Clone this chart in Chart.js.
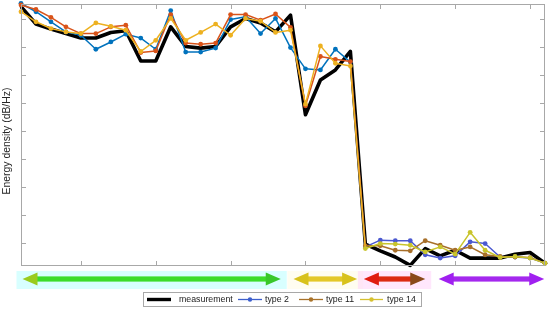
<!DOCTYPE html>
<html><head><meta charset="utf-8">
<script src="https://cdn.jsdelivr.net/npm/chart.js@4/dist/chart.umd.min.js"></script>
<style>html,body{margin:0;padding:0;background:#fff;overflow:hidden}#wrap{position:relative;width:550px;height:309px}</style>
</head><body><div id="wrap"><canvas id="c" width="550" height="309"></canvas></div>
<script>
// ---- data ----
const xValues = [1,2,3,4,5,6,7,8,9,10,11,12,13,14,15,16,17,18,19,20,21,22,23,24,25,26,27,28,29,30,31,32,33,34,35,36];
const measurement = [-17.8,-20.9,-21.8,-22.6,-23.4,-23.4,-22.4,-22.1,-27.5,-27.5,-21.4,-24.9,-25.2,-24.9,-21.4,-19.9,-20.7,-22.3,-19.3,-37.1,-30.9,-29.1,-25.8,-60.2,-61.4,-62.5,-64.0,-61.0,-62.3,-61.3,-62.7,-62.7,-62.7,-62.0,-61.7,-63.6];
const type2 = [-17.2,-18.7,-20.5,-22.3,-22.9,-25.4,-24.1,-22.7,-23.4,-25.4,-18.5,-25.9,-25.9,-25.2,-20.1,-19.6,-22.6,-19.9,-25.1,-28.9,-29.1,-25.4,-27.7,-60.7,-59.5,-59.6,-59.6,-62.1,-62.7,-62.3,-59.8,-60.1,-62.5,-62.5,-62.7,-63.6];
const type11 = [-17.5,-18.3,-19.7,-21.4,-22.6,-22.6,-21.4,-21.1,-26.0,-25.7,-19.2,-24.3,-24.5,-24.3,-19.2,-19.2,-20.2,-19.1,-21.5,-35.5,-26.7,-27.2,-27.6,-60.5,-60.5,-61.3,-61.4,-59.6,-60.4,-61.3,-60.7,-62.1,-62.4,-62.5,-62.6,-63.6];
const type14 = [-18.7,-20.5,-21.7,-22.3,-22.6,-20.7,-21.3,-22.0,-25.8,-23.8,-19.9,-23.8,-22.4,-20.9,-22.9,-19.9,-20.4,-22.4,-22.0,-35.2,-24.8,-27.9,-28.4,-61.0,-60.1,-60.2,-60.4,-61.6,-60.7,-62.0,-58.1,-61.3,-62.6,-62.4,-62.7,-63.6];
const seriesNames = ['measurement','type 2','type 11','type 14'];
const xTicks = [5,10,15,20,25,30,35];
const yTicks = [-60,-55,-50,-45,-40,-35,-30,-25,-20];
const yTitle = 'Energy density (dB/Hz)';
// frequency bands marked by arrows below the axes (x units)
const bandStart = [1.1, 19.2, 23.9, 28.9];
const bandEnd = [18.35, 23.45, 28.0, 35.95];

// ---- styles ----
const FONT = '"Liberation Sans", Arial, Helvetica, sans-serif';
const topCols = ['#000000','#0072BD','#D95319','#EDB120'];
const lowCols = ['#000000','#4a58d0','#a8702a','#c8c42c'];
const legendCols = ['#000000','#3d5fcc','#a8722a','#d6c030'];
const SPLIT = 22; // index after which colours shift
const seriesData = [measurement, type2, type11, type14];

function mkDs(i){
  const isM = i===0;
  return {
    label: seriesNames[i],
    data: seriesData[i].map((v,k)=>({x:xValues[k], y:v})),
    borderColor: topCols[i],
    borderWidth: isM ? 3.6 : 1.5,
    pointRadius: isM ? 0 : 2.4,
    pointBorderWidth: 0,
    pointBackgroundColor: ctx => ctx.dataIndex > SPLIT ? lowCols[i] : topCols[i],
    pointBorderColor: ctx => ctx.dataIndex > SPLIT ? lowCols[i] : topCols[i],
    segment: { borderColor: c => c.p0DataIndex > SPLIT ? lowCols[i] : topCols[i] },
    tension: 0,
    fill: false,
    clip: false,
    order: 4 - i,
    borderJoinStyle: 'round'
  };
}

const framePlugin = {
  id:'frame',
  beforeDatasetsDraw(chart){
    const {ctx, chartArea:a, scales:{x,y}} = chart;
    ctx.save();
    // band backgrounds
    const bgCols = ['rgba(190,255,255,0.6)','rgba(255,252,225,0.5)','rgba(255,215,250,0.6)','rgba(240,240,255,0.0)'];
    for(let i=0;i<bandStart.length;i++){
      const x0 = x.getPixelForValue(bandStart[i]) - 6, x1 = x.getPixelForValue(bandEnd[i]) + 6;
      ctx.fillStyle = bgCols[i];
      ctx.fillRect(x0, a.bottom+5, x1-x0, 18);
    }
    ctx.restore();
  },
  afterDatasetsDraw(chart){
    const {ctx, chartArea:a, scales:{x,y}} = chart;
    ctx.save();
    ctx.strokeStyle = '#a8a8a8';
    ctx.lineWidth = 1;
    ctx.strokeRect(a.left+0.5, a.top+0.5, a.right-a.left-1, a.bottom-a.top-1);
    ctx.beginPath();
    const tl = 5;
    xTicks.forEach(v=>{
      const px = Math.round(x.getPixelForValue(v))+0.5;
      ctx.moveTo(px,a.top); ctx.lineTo(px,a.top+tl);
      ctx.moveTo(px,a.bottom); ctx.lineTo(px,a.bottom-tl);
    });
    yTicks.forEach(v=>{
      const py = Math.round(y.getPixelForValue(v))+0.5;
      ctx.moveTo(a.left,py); ctx.lineTo(a.left+tl,py);
      ctx.moveTo(a.right,py); ctx.lineTo(a.right-tl,py);
    });
    ctx.stroke();

    // y axis title
    ctx.save();
    ctx.translate(7, (a.top+a.bottom)/2 + 6);
    ctx.rotate(-Math.PI/2);
    ctx.font = '10.4px ' + FONT;
    ctx.fillStyle = '#262626';
    ctx.textAlign = 'center';
    ctx.textBaseline = 'middle';
    ctx.fillText(yTitle, 0, 0);
    ctx.restore();

    // arrows
    const arrowCols = [['#9acb1e','#3ddc2a','#38c82a'],['#d8c21c','#e4c828','#d8c21c'],['#e01c10','#dc2a12','#8a4a1a'],['#a020f0','#a428ee','#a020f0']];
    const cy = a.bottom + 13;
    for(let i=0;i<bandStart.length;i++){
      const x0 = x.getPixelForValue(bandStart[i]), x1 = x.getPixelForValue(bandEnd[i]);
      const hl = 15, hh = 6.5, sh = 2.6;
      const [cl, cm, cr] = arrowCols[i];
      ctx.fillStyle = cm;
      ctx.fillRect(x0+hl-1, cy-sh, (x1-x0)-2*hl+2, 2*sh);
      ctx.fillStyle = cl;
      ctx.beginPath(); ctx.moveTo(x0,cy); ctx.lineTo(x0+hl,cy-hh); ctx.lineTo(x0+hl,cy+hh); ctx.closePath(); ctx.fill();
      ctx.fillStyle = cr;
      ctx.beginPath(); ctx.moveTo(x1,cy); ctx.lineTo(x1-hl,cy-hh); ctx.lineTo(x1-hl,cy+hh); ctx.closePath(); ctx.fill();
    }

    // legend
    const lx = 143, ly = 292, lw = 279, lh = 15;
    ctx.fillStyle = '#ffffff';
    ctx.fillRect(lx, ly, lw, lh);
    ctx.strokeStyle = '#a8a8a8';
    ctx.strokeRect(lx+0.5, ly+0.5, lw-1, lh-1);
    const items = [[147,171,179],[238,262,265],[299,323,326],[360,383,387]];
    const cyL = ly + lh/2;
    ctx.font = '8.8px ' + FONT;
    ctx.textBaseline = 'middle';
    for(let i=0;i<4;i++){
      const [s,e,t] = items[i];
      ctx.strokeStyle = legendCols[i];
      ctx.lineWidth = i===0 ? 3.4 : 1.3;
      ctx.beginPath(); ctx.moveTo(s,cyL); ctx.lineTo(e,cyL); ctx.stroke();
      if(i>0){ ctx.fillStyle = legendCols[i]; ctx.beginPath(); ctx.arc((s+e)/2,cyL,2.2,0,Math.PI*2); ctx.fill(); }
      ctx.fillStyle = '#1a1a1a';
      ctx.fillText(seriesNames[i], t, cyL+0.5);
    }
    ctx.restore();
  }
};

new Chart(document.getElementById('c').getContext('2d'), {
  type:'line',
  data:{ datasets:[0,1,2,3].map(mkDs) },
  options:{
    responsive:false, animation:false, devicePixelRatio:1,
    layout:{padding:{top:4,right:5,left:0,bottom:0}},
    plugins:{legend:{display:false}, tooltip:{enabled:false}},
    scales:{
      x:{type:'linear', min:1, max:36, grid:{display:false}, border:{display:false}, ticks:{display:false},
         afterFit(s){s.height=43;}, afterBuildTicks(s){s.ticks=xTicks.map(v=>({value:v}));}},
      y:{type:'linear', min:-64.11, max:-17.32, grid:{display:false}, border:{display:false}, ticks:{display:false},
         afterBuildTicks(s){s.ticks=yTicks.map(v=>({value:v}));},
         title:{display:false, text:yTitle},
         afterFit(s){s.width=21;}}
    }
  },
  plugins:[framePlugin]
});
</script></body></html>
